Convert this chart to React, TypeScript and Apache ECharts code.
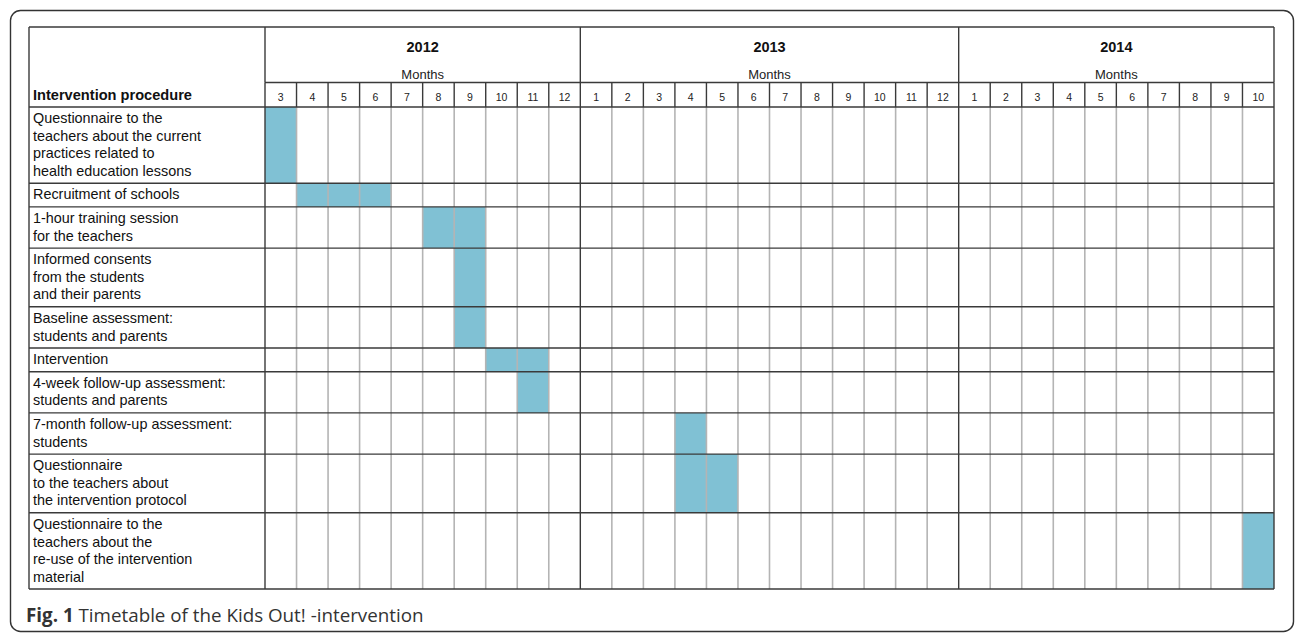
import React, { useEffect, useRef } from "react";
import * as echarts from "echarts";

// ---- data ----
const years = ["2012", "2013", "2014"];
const yearMonths: string[][] = [
  ["3", "4", "5", "6", "7", "8", "9", "10", "11", "12"],
  ["1", "2", "3", "4", "5", "6", "7", "8", "9", "10", "11", "12"],
  ["1", "2", "3", "4", "5", "6", "7", "8", "9", "10"],
];
const headerLabel = "Intervention procedure";
const subHeader = "Months";
const activities = [
  "Questionnaire to the\nteachers about the current\npractices related to\nhealth education lessons",
  "Recruitment of schools",
  "1-hour training session\nfor the teachers",
  "Informed consents\nfrom the students\nand their parents",
  "Baseline assessment:\nstudents and parents",
  "Intervention",
  "4-week follow-up assessment:\nstudents and parents",
  "7-month follow-up assessment:\nstudents",
  "Questionnaire\nto the teachers about\nthe intervention protocol",
  "Questionnaire to the\nteachers about the\nre-use of the intervention\nmaterial",
];
const schedule: string[][] = [
  ["2012-3"],
  ["2012-4", "2012-5", "2012-6"],
  ["2012-8", "2012-9"],
  ["2012-9"],
  ["2012-9"],
  ["2012-10", "2012-11"],
  ["2012-11"],
  ["2013-4"],
  ["2013-4", "2013-5"],
  ["2014-10"],
];
const caption = "Timetable of the Kids Out! -intervention";
const captionTag = "Fig. 1";

// ---- derived ----
const monthLabels = yearMonths.flat();
const monthKeys = years.flatMap((y, i) => yearMonths[i].map((m) => y + "-" + m));
const N = monthLabels.length;
const yearStart: number[] = [];
{
  let acc = 0;
  yearMonths.forEach((ms) => {
    yearStart.push(acc);
    acc += ms.length;
  });
}
const LINE = 17.5;
const rowHeights = activities.map((a) => 6.2 + LINE * a.split("\n").length);
const rowStart: number[] = [];
{
  let acc = 0;
  rowHeights.forEach((h) => {
    rowStart.push(acc);
    acc += h;
  });
}
const total = rowHeights.reduce((a, b) => a + b, 0);
const barData: number[][] = [];
schedule.forEach((keys, r) =>
  keys.forEach((k) => barData.push([monthKeys.indexOf(k), r]))
);

const FONT = '"Liberation Sans", Arial, sans-serif';
const CAPFONT = '"Open Sans", sans-serif';
const DARK = "#3a3a3a";
const GREY = "#b4b4b4";

export default function App() {
  const ref = useRef<HTMLDivElement>(null);
  useEffect(() => {
    if (!ref.current) return;
    const chart = echarts.init(ref.current, null, { renderer: "svg" });
    const option: any = {
      animation: false,
      grid: { left: 265, right: 21, top: 107, bottom: 44 },
      xAxis: {
        type: "category",
        position: "top",
        data: monthLabels,
        boundaryGap: true,
        axisLine: { show: false },
        axisTick: { show: false },
        splitLine: { show: false },
        axisLabel: { fontSize: 10.5, color: "#222", margin: 5, fontFamily: FONT, interval: 0 },
      },
      yAxis: { type: "value", inverse: true, min: 0, max: total, show: false },
      graphic: [
        {
          type: "rect",
          shape: { x: 10.5, y: 10.5, width: 1283, height: 621, r: 10 },
          style: { fill: "none", stroke: "#333", lineWidth: 1.4 },
        },
        {
          type: "text",
          x: 26,
          y: 615,
          style: {
            text: "{b|" + captionTag + "} " + caption,
            rich: { b: { fontWeight: "bold", fontSize: 18.8, fontFamily: CAPFONT, fill: "#333" } },
            fontFamily: CAPFONT,
            fontSize: 18.8,
            fill: "#333",
            verticalAlign: "middle",
          },
        },
      ],
      series: [
        {
          type: "custom",
          name: "bars",
          clip: false,
          z: 1,
          data: barData,
          renderItem: (params: any, api: any) => {
            const col = api.value(0);
            const row = api.value(1);
            const w = api.size([1, 0])[0];
            const p1 = api.coord([col, rowStart[row]]);
            const p2 = api.coord([col, rowStart[row] + rowHeights[row]]);
            return {
              type: "rect",
              shape: { x: p1[0] - w / 2, y: p1[1], width: w, height: p2[1] - p1[1] },
              style: { fill: "#80c1d4" },
            };
          },
        },
        {
          type: "custom",
          name: "table",
          clip: false,
          z: 2,
          data: [[0, 0]],
          renderItem: (params: any, api: any) => {
            const w = api.size([1, 0])[0];
            const xb = (k: number) =>
              k < N ? api.coord([k, 0])[0] - w / 2 : api.coord([N - 1, 0])[0] + w / 2;
            const yb = (u: number) => api.coord([0, u])[1];
            const top = yb(0);
            const bottom = yb(total);
            const tableTop = top - 80;
            const monthTop = top - 24.5;
            const left = xb(0) - 236;
            const right = xb(N);
            const children: any[] = [];
            const line = (x1: number, y1: number, x2: number, y2: number, c: string) =>
              children.push({
                type: "line",
                shape: { x1, y1, x2, y2 },
                style: { stroke: c, lineWidth: c === DARK ? 1.4 : 1.6 },
              });
            // vertical lines
            for (let k = 0; k <= N; k++) {
              const isYear = k === N || yearStart.indexOf(k) >= 0;
              const x = xb(k);
              line(x, top, x, bottom, isYear ? DARK : GREY);
              line(x, monthTop, x, top, DARK);
              if (isYear) line(x, tableTop, x, monthTop, DARK);
            }
            line(left, tableTop, left, bottom, DARK);
            // horizontal lines
            line(left, tableTop, right, tableTop, DARK);
            line(xb(0), monthTop, right, monthTop, DARK);
            line(left, top, right, top, DARK);
            rowStart.forEach((s, r) => {
              if (r > 0) line(left, yb(s), right, yb(s), DARK);
            });
            line(left, bottom, right, bottom, DARK);
            // header texts
            children.push({
              type: "text",
              x: left + 4,
              y: (monthTop + top) / 2 + 0.5,
              style: {
                text: headerLabel,
                fontFamily: FONT,
                fontSize: 14.6,
                fontWeight: "bold",
                fill: "#111",
                verticalAlign: "middle",
              },
            });
            years.forEach((y, i) => {
              const cx = (xb(yearStart[i]) + xb(yearStart[i] + yearMonths[i].length)) / 2;
              children.push({
                type: "text",
                x: cx,
                y: tableTop + 20,
                style: {
                  text: y,
                  fontFamily: FONT,
                  fontSize: 14.5,
                  fontWeight: "bold",
                  fill: "#111",
                  align: "center",
                  verticalAlign: "middle",
                },
              });
              children.push({
                type: "text",
                x: cx,
                y: tableTop + 47,
                style: {
                  text: subHeader,
                  fontFamily: FONT,
                  fontSize: 13,
                  fill: "#222",
                  align: "center",
                  verticalAlign: "middle",
                },
              });
            });
            // row labels
            activities.forEach((a, r) => {
              children.push({
                type: "text",
                x: left + 4,
                y: yb(rowStart[r]) + 2.5,
                style: {
                  text: a,
                  fontFamily: FONT,
                  fontSize: 14.4,
                  lineHeight: LINE,
                  fill: "#111",
                  verticalAlign: "top",
                },
              });
            });
            return { type: "group", children };
          },
        },
      ],
    };
    chart.setOption(option);
    return () => chart.dispose();
  }, []);
  return (
    <div
      ref={ref}
      style={{ position: "fixed", left: 0, top: 0, width: 1295, height: 633, background: "#fff" }}
    />
  );
}
